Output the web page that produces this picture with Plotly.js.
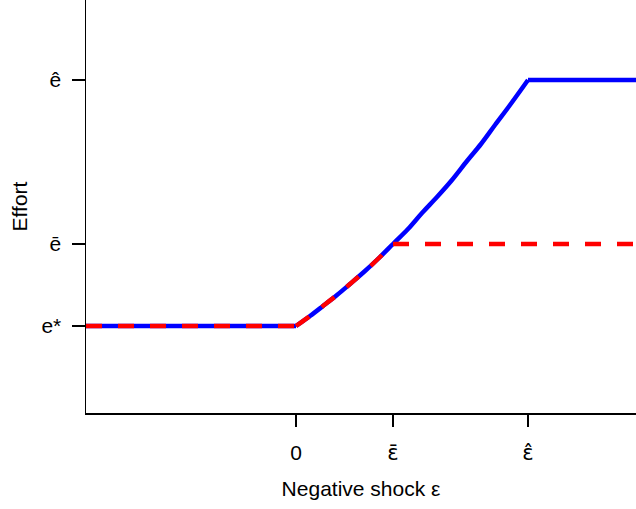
<!DOCTYPE html>
<html>
<head>
<meta charset="utf-8">
<script src="https://cdn.plot.ly/plotly-3.0.1.min.js"></script>
<style>html,body{margin:0;padding:0;background:#fff;}#chart{width:636px;height:509px;}</style>
</head>
<body>
<div id="chart"></div>
<script>
// Negative shock values (x) and effort levels (y)
const shockFull = [-2.10, 0, 0.14, 0.27, 0.41, 0.54, 0.69, 0.84, 0.97, 1.12, 1.26, 1.41, 1.56, 1.71, 1.85, 1.99, 2.14, 2.32, 3.40];
const effortFull = [0.87, 0.87, 0.97, 1.07, 1.18, 1.29, 1.42, 1.56, 1.69, 1.84, 2.00, 2.16, 2.33, 2.52, 2.69, 2.88, 3.08, 3.33, 3.33];
const shockCapped = [-2.10, 0, 0.14, 0.27, 0.41, 0.54, 0.69, 0.84, 0.97, 3.40];
const effortCapped = [0.87, 0.87, 0.97, 1.07, 1.18, 1.29, 1.42, 1.56, 1.69, 1.69];

const xTickVals = [0, 0.97, 2.32];
const xTickText = ["0", "<span style=\"font-family:'DejaVu Sans'\">\u03B5\u0304</span>", "<span style=\"font-family:'DejaVu Sans'\">\u03B5\u0302</span>"];
const yTickVals = [0.87, 1.69, 3.33];
const yTickText = ["e*", "\u0113", "\u00EA"];

const font = "Liberation Sans, Arial, sans-serif";
const fs = 21;

// split each series into flat / curved / flat pieces so the curve is smooth but corners stay sharp
function pieces(xs, ys, color, dash) {
  const n = xs.length;
  const line = {color: color, width: 4.5};
  if (dash) line.dash = dash;
  return [
    {x: xs.slice(0, 2), y: ys.slice(0, 2), mode: "lines", line: Object.assign({}, line), hoverinfo: "skip"},
    {x: xs.slice(1, n - 1), y: ys.slice(1, n - 1), mode: "lines", line: Object.assign({shape: "spline", smoothing: 1}, line), hoverinfo: "skip"},
    {x: xs.slice(n - 2), y: ys.slice(n - 2), mode: "lines", line: Object.assign({}, line), hoverinfo: "skip"}
  ];
}

const traces = pieces(shockFull, effortFull, "#0000FF", null)
  .concat(pieces(shockCapped, effortCapped, "#FF0000", "16px,16px"));

const layout = {
  width: 636, height: 509,
  margin: {l: 86, r: 0, t: 0, b: 96},
  paper_bgcolor: "#fff", plot_bgcolor: "#fff",
  showlegend: false,
  font: {family: font, size: fs, color: "#000"},
  xaxis: {
    range: [-2.10, 3.40], showgrid: false, zeroline: false,
    showline: true, linecolor: "#000", linewidth: 1.5,
    ticks: "outside", ticklen: 12, tickwidth: 1.5, tickcolor: "#000",
    tickvals: xTickVals, ticktext: xTickText,
    tickfont: {family: font, size: fs}, ticklabelstandoff: 8,
    title: {text: "Negative shock \u03B5", font: {family: font, size: fs}, standoff: 17},
    automargin: false, fixedrange: true
  },
  yaxis: {
    range: [0, 4.13], showgrid: false, zeroline: false,
    showline: true, linecolor: "#000", linewidth: 1.5,
    ticks: "outside", ticklen: 13, tickwidth: 1.5, tickcolor: "#000",
    tickvals: yTickVals, ticktext: yTickText,
    tickfont: {family: font, size: fs}, ticklabelstandoff: 6,
    title: {text: "Effort", font: {family: font, size: fs}, standoff: 8},
    automargin: false, fixedrange: true
  }
};

Plotly.newPlot("chart", traces, layout, {staticPlot: true, displayModeBar: false});
</script>
</body>
</html>
